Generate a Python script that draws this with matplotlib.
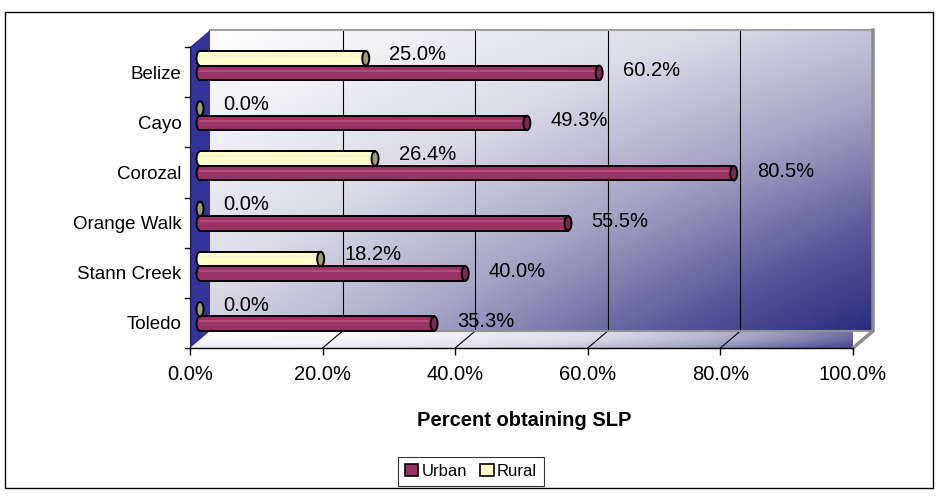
import numpy as np
import matplotlib.pyplot as plt
from matplotlib.patches import Rectangle, Ellipse, Polygon, Patch
from matplotlib.colors import LinearSegmentedColormap

districts = ['Belize', 'Cayo', 'Corozal', 'Orange Walk', 'Stann Creek', 'Toledo']
urban = [60.2, 49.3, 80.5, 55.5, 40.0, 35.3]
rural = [25.0, 0.0, 26.4, 0.0, 18.2, 0.0]
xticks = [0, 20, 40, 60, 80, 100]

plt.rcParams['font.family'] = ['Liberation Sans', 'DejaVu Sans']

W, H = 938, 499
fig = plt.figure(figsize=(W / 100, H / 100), dpi=100)

# front plane of the fake 3d box, in pixels
fx0, fx1, fy0, fy1 = 190, 853, 47, 348
ax = fig.add_axes([fx0 / W, 1 - fy1 / H, (fx1 - fx0) / W, (fy1 - fy0) / H])
ax.set_frame_on(False)

sx = 100 / (fx1 - fx0)   # data units per pixel
sy = 6 / (fy1 - fy0)
DX, DY = 20 * sx, -17 * sy   # depth offset of back wall

# back wall gradient
u, v = np.meshgrid(np.linspace(0, 1, 300), np.linspace(0, 1, 150))
t = np.clip(0.4 * u + 0.35 * v + 0.25 * u * v, 0, 1)
wall_cmap = LinearSegmentedColormap.from_list('wall', [
    (0.0, (1, 1, 1)), (0.3, (0.86, 0.86, 0.91)), (0.55, (0.64, 0.64, 0.77)),
    (0.8, (0.34, 0.34, 0.6)), (1.0, (0.17, 0.17, 0.5))])
im = ax.imshow(wall_cmap(t), extent=(DX, 100 + DX, 6 + DY, DY), aspect='auto',
               interpolation='bilinear', zorder=0)
im.set_clip_on(False)

# floor
floor = Polygon([(0, 6), (100, 6), (100 + DX, 6 + DY), (DX, 6 + DY)],
                closed=True, fc='none', ec='none')
ax.add_patch(floor)
fu, fv = np.meshgrid(np.linspace(0, 1, 300), np.linspace(0, 1, 20))
ft = np.clip(0.02 + 0.15 * fv ** 2 + 0.75 * fu ** 2, 0, 1)
fim = ax.imshow(wall_cmap(ft), extent=(0, 100 + DX, 6, 6 + DY), aspect='auto',
                interpolation='bilinear', zorder=0.5)
fim.set_clip_path(floor)

# gridlines on wall and floor
for x in xticks[1:-1]:
    ax.plot([x + DX, x + DX], [DY, 6 + DY], color='black', lw=0.8, zorder=1, clip_on=False)
    ax.plot([x, x + DX], [6, 6 + DY], color='black', lw=0.8, zorder=1, clip_on=False)

# box edges
ax.plot([DX, 100 + DX], [DY, DY], color='#a0a0a0', lw=1.5, zorder=1, clip_on=False)
ax.plot([DX, 100 + DX], [6 + DY, 6 + DY], color='#909090', lw=1.5, zorder=1, clip_on=False)
ax.plot([100 + DX, 100 + DX, 100], [DY, 6 + DY, 6], color='#8c8c8c', lw=2.5,
        zorder=1, clip_on=False)

# left wall
ax.add_patch(Polygon([(0, 0), (DX, DY), (DX, 6 + DY), (0, 6)], closed=True,
                     fc='#333399', ec='none', zorder=1.5, clip_on=False))
ax.plot([0, 0], [0, 6], color='#1a1a4d', lw=0.8, zorder=1.6, clip_on=False)
ax.plot([0, 100], [6, 6], color='black', lw=1, zorder=1.6, clip_on=False)
for k in range(7):
    ax.plot([-5 * sx, 0], [k, k], color='black', lw=1, zorder=1.6, clip_on=False)

# cylinders
bx, by = 10 * sx, -6.5 * sy
bh = 14.5 * sy
cw = 7 * sx


def cylinder(val, yc, body, shine, cap, label_dy):
    if val > 0:
        ax.add_patch(Ellipse((bx, yc), cw, bh, fc=body, ec='black', lw=1.4, zorder=3))
        ax.add_patch(Rectangle((bx, yc - bh / 2), val, bh, fc=body, ec='none', zorder=3.1))
        ax.plot([bx, bx + val], [yc - bh * 0.15, yc - bh * 0.15], color=shine, lw=1.2,
                zorder=3.2)
        ax.plot([bx, bx + val], [yc - bh / 2, yc - bh / 2], color='black', lw=1.4, zorder=3.3)
        ax.plot([bx, bx + val], [yc + bh / 2, yc + bh / 2], color='black', lw=1.4, zorder=3.3)
    ax.add_patch(Ellipse((bx + val, yc), cw, bh, fc=cap, ec='black', lw=1.4, zorder=3.4))
    ax.annotate(f'{val:.1f}%', xy=(bx + val + cw / 2, yc), xytext=(20, label_dy),
                textcoords='offset pixels', ha='left', va='center', fontsize=14.5,
                zorder=4, annotation_clip=False)


for k in range(len(districts)):
    yc = k + 0.5 + by
    cylinder(rural[k], yc - bh / 2, '#FFFFCC', '#F6F6D0', '#9E9E74', 4)
    cylinder(urban[k], yc + bh / 2, '#993366', '#B5557F', '#7A2952', 2)

ax.set_xlim(0, 100)
ax.set_ylim(6, 0)
ax.set_xticks(xticks)
ax.set_xticklabels([f'{x:.1f}%' for x in xticks], fontsize=14.5)
ax.tick_params(axis='x', length=5, width=1, direction='out', pad=7)
ax.set_yticks([k + 0.5 for k in range(len(districts))])
ax.set_yticklabels(districts, fontsize=13.5)
ax.tick_params(axis='y', length=0, pad=6)

fig.text(524 / W, 1 - 420 / H, 'Percent obtaining SLP', ha='center', va='center',
         fontsize=14.5, fontweight='bold')

handles = [Patch(fc='#993366', ec='black', lw=1.2, label='Urban'),
           Patch(fc='#FFFFCC', ec='black', lw=1.2, label='Rural')]
leg = fig.legend(handles=handles, loc='upper left', ncol=2,
                 bbox_to_anchor=(398 / W, 1 - 457 / H), fontsize=12,
                 frameon=True, fancybox=False, edgecolor='black',
                 handlelength=0.8, handleheight=0.8, handletextpad=0.2,
                 columnspacing=0.8, borderpad=0.4, borderaxespad=0)
leg.get_frame().set_linewidth(0.8)

fig.add_artist(Rectangle((5 / W, 1 - 488 / H), 928 / W, 476 / H, transform=fig.transFigure,
                         fill=False, ec='black', lw=1))

fig.savefig('out.png', dpi=100, facecolor='white')
